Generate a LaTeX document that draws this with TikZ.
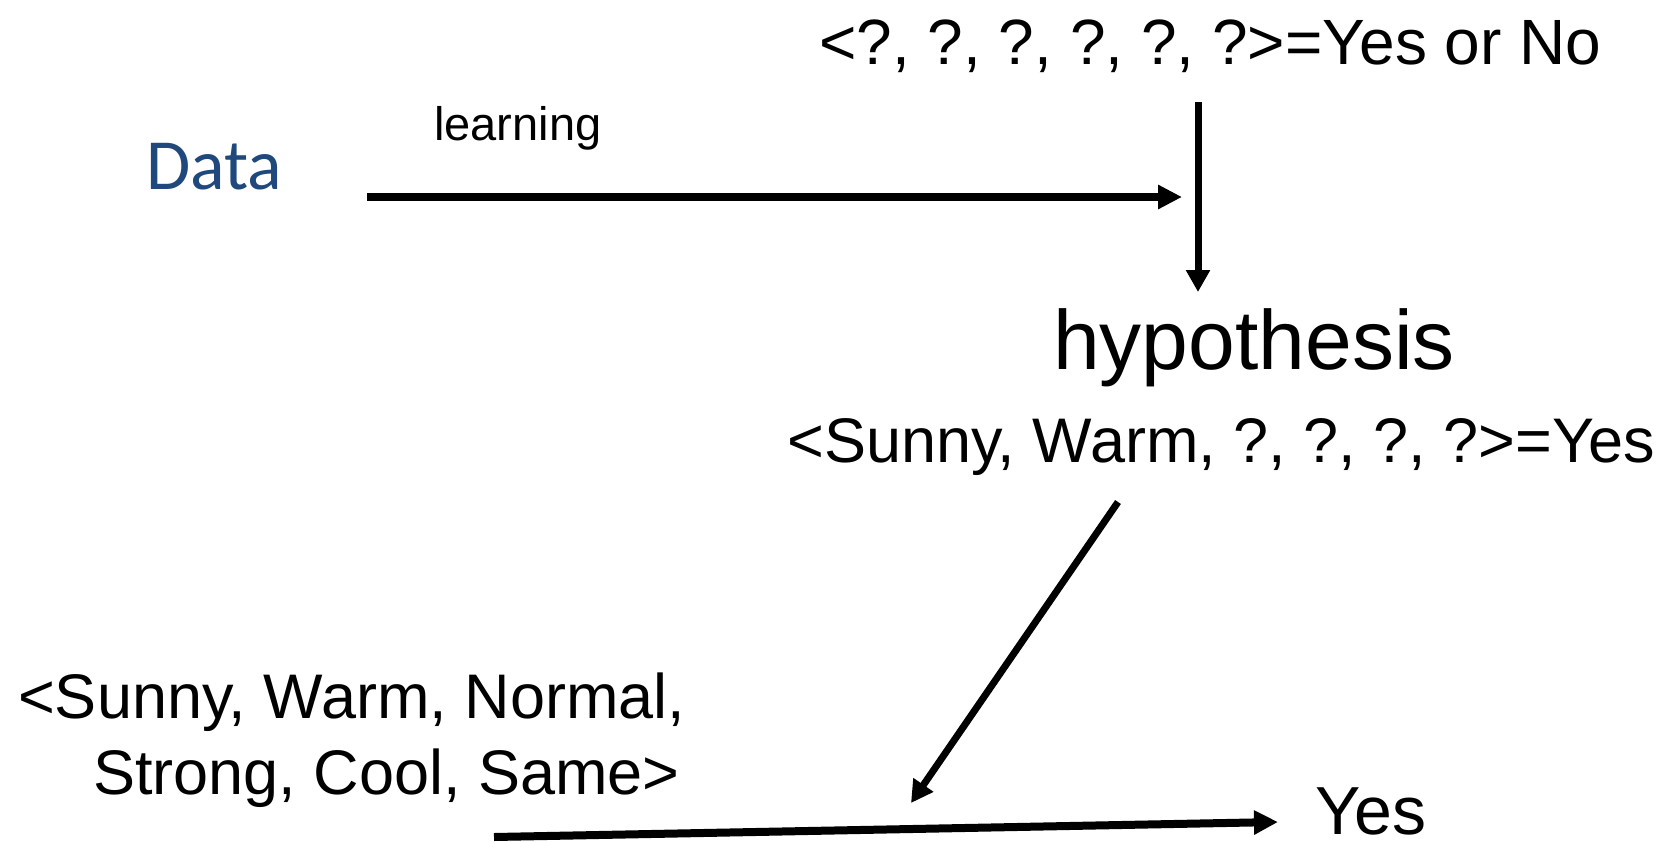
\documentclass[tikz,border=0pt]{standalone}
\usepackage{fontspec}
\setmainfont{Liberation Sans}
\newfontfamily\datafont{Carlito}
\usetikzlibrary{arrows.meta}
\definecolor{datablue}{RGB}{31,73,125}

\begin{document}
\begin{tikzpicture}[x=1pt,y=-1pt]
	 \tikzstyle{txt}=[inner sep=0pt,anchor=base west]
	 \tikzstyle{flow}=[draw,line width=8pt,black,-{Triangle[length=24pt,width=23pt]}]
	 \tikzstyle{flowthin}=[draw,line width=7pt,black,-{Triangle[length=22pt,width=23pt]}]
	 \useasboundingbox (0,0) rectangle (1676,841);

	 \node[txt,font=\datafont\fontsize{72}{86}\selectfont,text=datablue] (data) at (146,189) {Data};
	 \node[txt,font=\fontsize{47}{56}\selectfont] (learn) at (434,140) {learning};
	 \node[txt,font=\fontsize{64}{77}\selectfont] (query) at (819,64) {<?, ?, ?, ?, ?, ?>=Yes or No};
	 \node[txt,font=\fontsize{84}{100}\selectfont] (hyp) at (1053,369) {hypothesis};
	 \node[txt,font=\fontsize{63}{76}\selectfont] (rule) at (787,462) {<Sunny, Warm, ?, ?, ?, ?>=Yes};
	 \node[txt,font=\fontsize{63}{76}\selectfont,align=left] (inst) at (18,794) {<Sunny, Warm, Normal,\\\hspace*{75pt}Strong, Cool, Same>};
	 \node[txt,font=\fontsize{68}{82}\selectfont] (yes) at (1315,834) {Yes};

	 \coordinate (learn tail) at (367,197);
	 \coordinate (learn head) at (1182,197);
	 \coordinate (query tail) at (1198,102);
	 \coordinate (hyp head) at (1198,292);
	 \coordinate (rule tail) at (1118,502);
	 \coordinate (rule head) at (911,803);
	 \coordinate (inst tail) at (494,837);
	 \coordinate (yes head) at (1278,822);

	 \draw[flow] (learn tail) -- (learn head);
	 \draw[flowthin] (query tail) -- (hyp head);
	 \draw[flowthin] (rule tail) -- (rule head);
	 \draw[flow] (inst tail) -- (yes head);
 \end{tikzpicture}
\end{document}
